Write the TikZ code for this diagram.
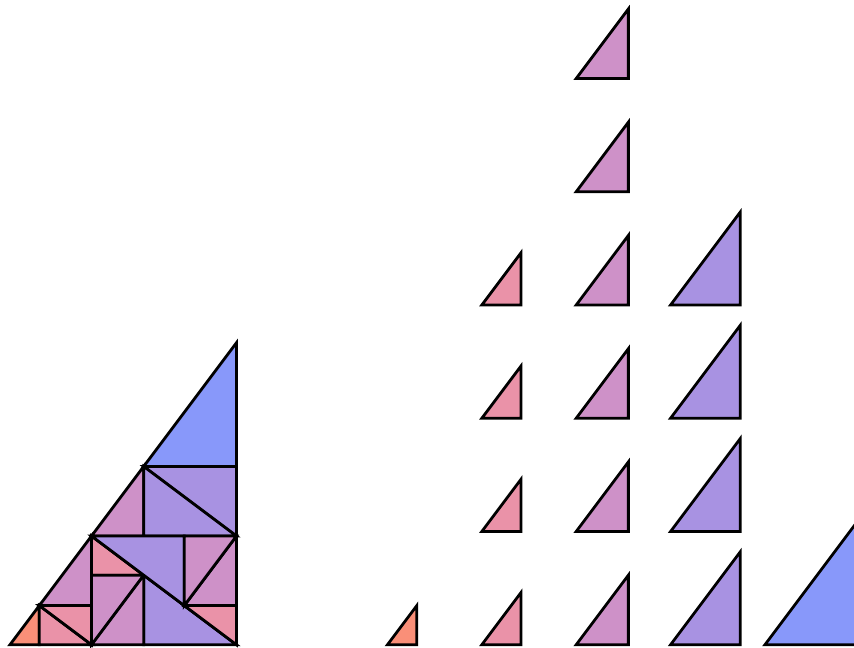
\documentclass[tikz,border=0pt]{standalone}
\usepackage{tikz}

\definecolor{tri4}{RGB}{250,143,120}
\definecolor{tri3}{RGB}{234,146,168}
\definecolor{tri2}{RGB}{206,145,200}
\definecolor{tri1}{RGB}{168,146,226}
\definecolor{tri0}{RGB}{136,152,250}

\begin{document}
\begin{tikzpicture}[
    piece/.style={draw, line width=1.05pt, line join=miter},
    orangetri/.style={piece, fill=tri4},
    pinktri/.style={piece, fill=tri3},
    mauvetri/.style={piece, fill=tri2},
    lilactri/.style={piece, fill=tri1},
    bluetri/.style={piece, fill=tri0}
]
\useasboundingbox (-0.132,-0.03) rectangle (11.18,8.54);
\clip (-0.132,-0.03) rectangle (11.18,8.54);

% Split points of the 3-4-5 triangle
\coordinate (A) at (0,0);
\coordinate (B) at (3,0);
\coordinate (C) at (3,4);
\coordinate (F) at (1.08,1.44);
\coordinate (G) at (1.08,0);
\coordinate (E) at (3,1.44);
\coordinate (H1) at (0.3888,0.5184);
\coordinate (H2) at (1.7712,0.9216);
\coordinate (H3) at (1.7712,2.3616);
\coordinate (H4) at (2.3088,0.5184);
\coordinate (K1) at (0.3888,0);
\coordinate (K2) at (1.08,0.5184);
\coordinate (K3) at (1.7712,0);
\coordinate (K4) at (1.08,0.9216);
\coordinate (K5) at (3,2.3616);
\coordinate (K6) at (1.7712,1.44);
\coordinate (K7) at (3,0.5184);
\coordinate (K8) at (2.3088,1.44);

% Pieces
\draw[orangetri] (K1) -- (A) -- (H1) -- cycle;
\draw[pinktri] (K1) -- (G) -- (H1) -- cycle;
\draw[mauvetri] (K2) -- (F) -- (H1) -- cycle;
\draw[pinktri] (K2) -- (G) -- (H1) -- cycle;
\draw[lilactri] (K3) -- (B) -- (H2) -- cycle;
\draw[mauvetri] (K3) -- (G) -- (H2) -- cycle;
\draw[pinktri] (K4) -- (F) -- (H2) -- cycle;
\draw[mauvetri] (K4) -- (G) -- (H2) -- cycle;
\draw[bluetri] (K5) -- (C) -- (H3) -- cycle;
\draw[lilactri] (K5) -- (E) -- (H3) -- cycle;
\draw[mauvetri] (K6) -- (F) -- (H3) -- cycle;
\draw[lilactri] (K6) -- (E) -- (H3) -- cycle;
\draw[pinktri] (K7) -- (B) -- (H4) -- cycle;
\draw[mauvetri] (K7) -- (E) -- (H4) -- cycle;
\draw[lilactri] (K8) -- (F) -- (H4) -- cycle;
\draw[mauvetri] (K8) -- (E) -- (H4) -- cycle;

% Sorted by size: 1, 4, 6, 4, 1
\draw[orangetri] (5,0) -- ++(0.3888,0) -- ++(0,0.5184) -- cycle;
\foreach \y in {0,1.5,3,4.5}
  \draw[pinktri] (6.25,\y) -- ++(0.5184,0) -- ++(0,0.6912) -- cycle;
\foreach \y in {0,1.5,3,4.5,6,7.5}
  \draw[mauvetri] (7.5,\y) -- ++(0.6912,0) -- ++(0,0.9216) -- cycle;
\foreach \y in {0,1.5,3,4.5}
  \draw[lilactri] (8.75,\y) -- ++(0.9216,0) -- ++(0,1.2288) -- cycle;
\draw[bluetri] (10,0) -- ++(1.2288,0) -- ++(0,1.6384) -- cycle;

\end{tikzpicture}
\end{document}
